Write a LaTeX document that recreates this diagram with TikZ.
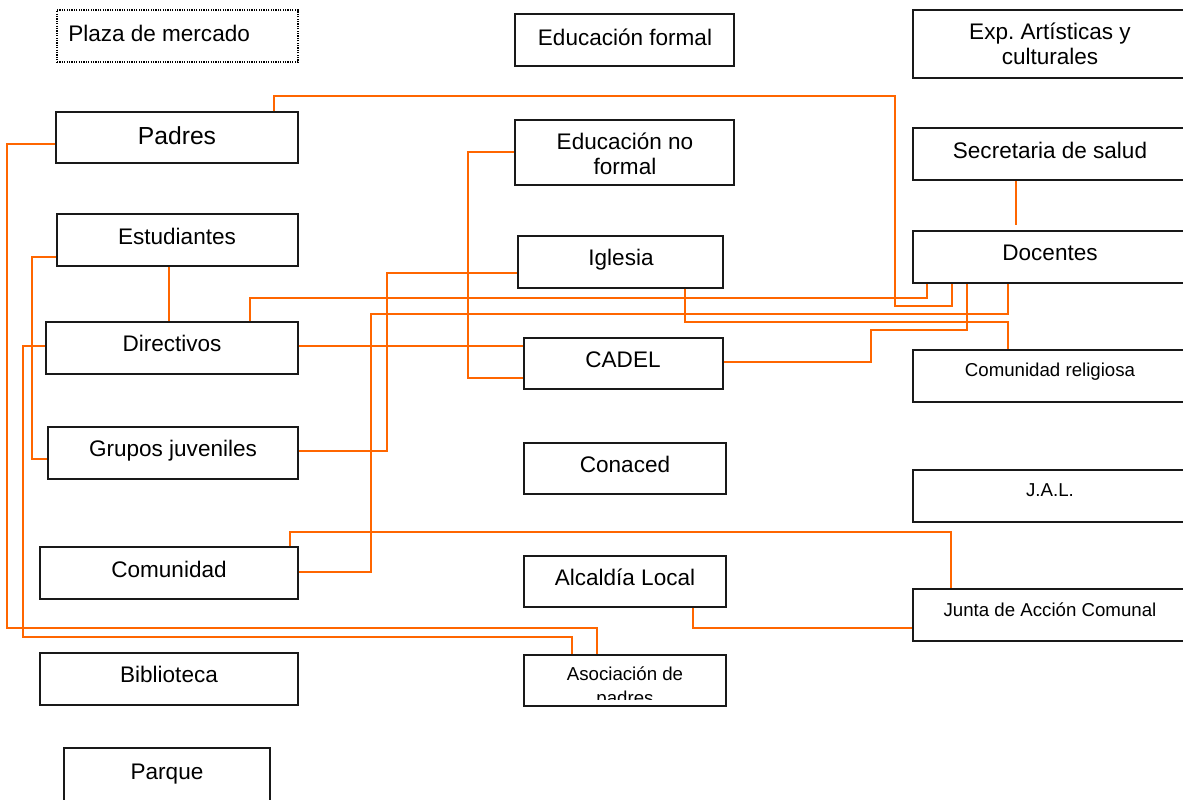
\documentclass[tikz,border=0pt]{standalone}
\usepackage{fontspec}
\setmainfont{Liberation Sans}
\frenchspacing
\definecolor{lineor}{HTML}{FF6600}
\tikzset{
  box/.style={draw=black!90, line width=1.1pt, rectangle, inner sep=0pt},
  dotbox/.style={draw=black, line width=1.2pt, dash pattern=on 0.9pt off 0.9pt},
  txt/.style={inner sep=0pt, anchor=base, font=\fontsize{16.9}{18.75}\selectfont},
  bigtxt/.style={txt, font=\fontsize{18.5}{22}\selectfont},
  smalltxt/.style={txt, font=\fontsize{14}{18}\selectfont},
  link/.style={draw=lineor, line width=1.4pt}
}
\newcommand\mybox[6][]{\node[box,#1,minimum width={(#4-#2)*0.75pt},minimum height={(#5-#3)*0.75pt}] (#6) at ({(#2+#4)/2},{(#3+#5)/2}) {};}
\begin{document}
\begin{tikzpicture}[x=0.75pt,y=-0.75pt]
\useasboundingbox (0,0) rectangle (1183,800);
% boxes
\mybox[dotbox]{57}{10}{298}{62}{plaza}
\mybox{515}{14}{734}{66}{eduf}
\mybox{913}{10}{1190}{78}{exp}
\mybox{56}{112}{298}{163}{padres}
\mybox{515}{120}{734}{185}{edunf}
\mybox{913}{128}{1190}{180}{salud}
\mybox{57}{214}{298}{266}{estud}
\mybox{518}{236}{723}{288}{iglesia}
\mybox{913}{231}{1190}{283}{docentes}
\mybox{46}{322}{298}{374}{direct}
\mybox{524}{338}{723}{389}{cadel}
\mybox{913}{350}{1190}{402}{comrel}
\mybox{48}{427}{298}{479}{grupos}
\mybox{524}{443}{726}{494}{conaced}
\mybox{913}{470}{1190}{522}{jal}
\mybox{40}{547}{298}{599}{comun}
\mybox{524}{556}{726}{607}{alcal}
\mybox{913}{589}{1190}{641}{junta}
\mybox{40}{653}{298}{705}{biblio}
\mybox{524}{655}{726}{706}{asoc}
\mybox{64}{748}{270}{802}{parque}
% texts
\node[txt, anchor=base west] (plaza-t) at (68,41) {Plaza de mercado};
\node[txt] (eduf-t) at (625,45) {Educación formal};
\node[txt] (exp-t) at (1050,39) {\parbox[t]{8cm}{\centering Exp. Artísticas y\\culturales}};
\node[bigtxt] (padres-t) at (177,144) {Padres};
\node[txt] (edunf-t) at (625,149) {\parbox[t]{6cm}{\centering Educación no\\formal}};
\node[txt] (salud-t) at (1050,158) {Secretaria de salud};
\node[txt] (estud-t) at (177,244) {Estudiantes};
\node[txt] (iglesia-t) at (621,265) {Iglesia};
\node[txt] (docentes-t) at (1050,260) {Docentes};
\node[txt] (direct-t) at (172,351) {Directivos};
\node[txt] (cadel-t) at (623,367) {CADEL};
\node[smalltxt] (comrel-t) at (1050,376) {Comunidad religiosa};
\node[txt] (grupos-t) at (173,456) {Grupos juveniles};
\node[txt] (conaced-t) at (625,472) {Conaced};
\node[smalltxt] (jal-t) at (1050,496) {J.A.L.};
\node[txt] (comun-t) at (169,577) {Comunidad};
\node[txt] (alcal-t) at (625,585) {Alcaldía Local};
\node[smalltxt] (junta-t) at (1050,616) {Junta de Acción Comunal};
\node[txt] (biblio-t) at (169,682) {Biblioteca};
\begin{scope}
  \clip (524,655) rectangle (726,699);
  \node[smalltxt] (asoc-t) at (625,680) {\parbox[t]{6cm}{\centering Asociación de\\padres}};
\end{scope}
\node[txt] (parque-t) at (167,779) {Parque};
% connectors
\coordinate (salud-end) at (1016,225);
\draw[link] (padres.north -| 274,0) |- (895,96) |- (952,306) -- (docentes.south -| 952,0);
\draw[link] (estud.west |- 0,257) -| (32,459) -- (grupos.west |- 0,459);
\draw[link] (estud.south -| 169,0) -- (direct.north -| 169,0);
\draw[link] (padres.west |- 0,144) -| (7,628) -| (asoc.north -| 597,0);
\draw[link] (direct.west |- 0,346) -| (23,637) -| (asoc.north -| 572,0);
\draw[link] (direct.east |- 0,346) -- (cadel.west |- 0,346);
\draw[link] (edunf.west |- 0,152) -| (468,378) -- (cadel.west |- 0,378);
\draw[link] (grupos.east |- 0,451) -| (387,273) -- (iglesia.west |- 0,273);
\draw[link] (comun.north -| 290,0) |- (951,532) -- (junta.north -| 951,0);
\draw[link] (comun.east |- 0,572) -| (371,314) -| (docentes.south -| 1008,0);
\draw[link] (alcal.south -| 693,0) |- (junta.west |- 0,628);
\draw[link] (direct.north -| 250,0) |- (927,298) -- (docentes.south -| 927,0);
\draw[link] (cadel.east |- 0,362) -| (871,330) -| (docentes.south -| 967,0);
\draw[link] (iglesia.south -| 685,0) |- (1008,322) -- (comrel.north -| 1008,0);
\draw[link] (salud.south -| 1016,0) -- (salud-end);
\end{tikzpicture}
\end{document}
